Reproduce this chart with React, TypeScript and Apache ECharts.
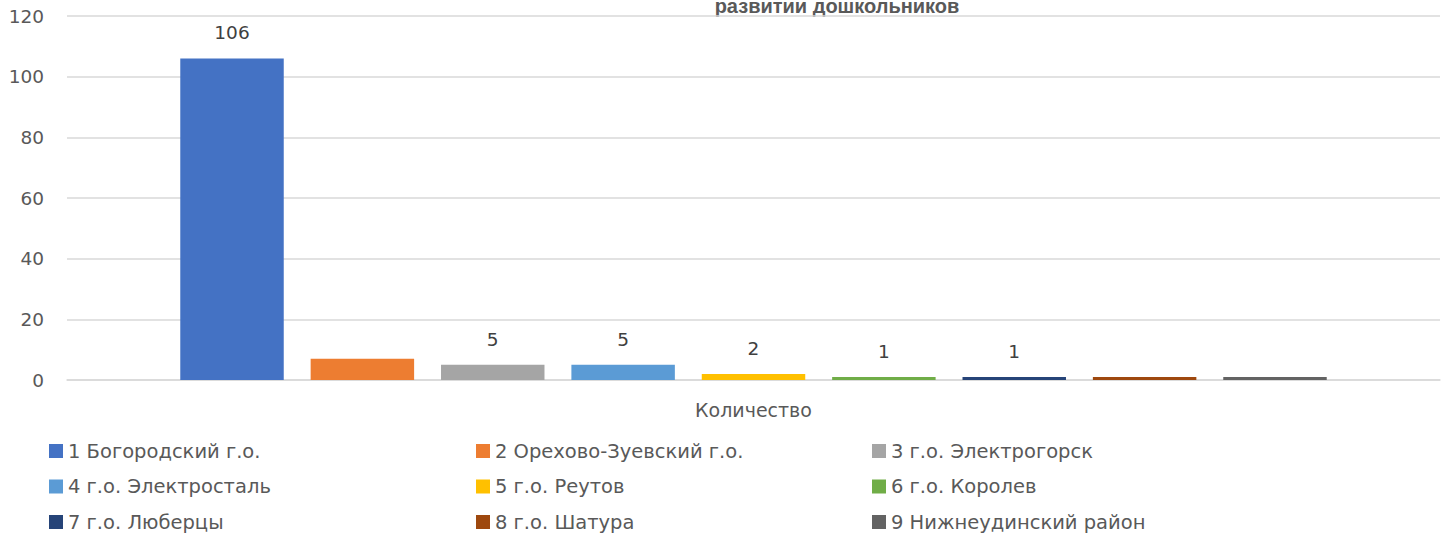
import React, { useEffect, useRef } from "react";
import * as echarts from "echarts";

const categories = ["Количество"];
const seriesNames = [
  "1 Богородский г.о.",
  "2 Орехово-Зуевский г.о.",
  "3 г.о. Электрогорск",
  "4 г.о. Электросталь",
  "5 г.о. Реутов",
  "6 г.о. Королев",
  "7 г.о. Люберцы",
  "8 г.о. Шатура",
  "9 Нижнеудинский район",
];
const seriesValues = [106, 7, 5, 5, 2, 1, 1, 1, 1];
const showLabel = [true, false, true, true, true, true, true, false, false];
const colors = ["#4472C4", "#ED7D31", "#A5A5A5", "#5B9BD5", "#FFC000", "#70AD47", "#264478", "#9E480E", "#636363"];
const yTicks = { min: 0, max: 120, interval: 20 };
const titleText = "развитии дошкольников";

const FONT = "'DejaVu Sans', sans-serif";

export default function App() {
  const ref = useRef<HTMLDivElement>(null);
  useEffect(() => {
    if (!ref.current) return;
    const chart = echarts.init(ref.current, null, { renderer: "svg" });
    const legendCols = [0, 1, 2].map((c) => seriesNames.filter((_, i) => i % 3 === c));
    const legendLeft = [49, 476, 872];
    chart.setOption({
      animation: false,
      color: colors,
      graphic: [
        {
          type: "text",
          x: 837,
          y: 6,
          style: {
            text: titleText,
            fontFamily: "'Liberation Sans', Arial, sans-serif",
            fontWeight: "bold",
            fontSize: 20,
            fill: "#595959",
            align: "center",
            verticalAlign: "middle",
          },
        },
      ],
      grid: { left: 67, right: 10, top: 16, bottom: 155, containLabel: false },
      legend: legendCols.map((names, c) => ({
        orient: "vertical",
        left: legendLeft[c],
        top: 441,
        padding: 0,
        itemWidth: 14,
        itemHeight: 14,
        itemGap: 15.5,
        icon: "rect",
        data: names,
        textStyle: { fontFamily: FONT, fontSize: 19.5, color: "#595959", lineHeight: 20 },
      })),
      xAxis: {
        type: "category",
        data: categories,
        axisLine: { lineStyle: { color: "#d9d9d9", width: 1.5 } },
        axisTick: { show: false },
        axisLabel: { margin: 20, fontFamily: FONT, fontSize: 19, color: "#595959" },
      },
      yAxis: {
        type: "value",
        min: yTicks.min,
        max: yTicks.max,
        interval: yTicks.interval,
        axisLine: { show: false },
        axisTick: { show: false },
        splitLine: { lineStyle: { color: "#d9d9d9", width: 1.5 } },
        axisLabel: { margin: 23, fontFamily: FONT, fontSize: 18.5, color: "#595959" },
      },
      series: seriesNames.map((name, i) => ({
        name,
        type: "bar",
        data: [seriesValues[i]],
        barGap: "26%",
        barCategoryGap: "16.5%",
        itemStyle: { color: colors[i] },
        label: {
          show: showLabel[i],
          position: "top",
          distance: 16,
          fontFamily: FONT,
          fontSize: 18.5,
          color: "#404040",
        },
      })),
    });
    return () => chart.dispose();
  }, []);
  return <div ref={ref} style={{ width: 1450, height: 535, position: "absolute", left: 0, top: 0 }} />;
}
